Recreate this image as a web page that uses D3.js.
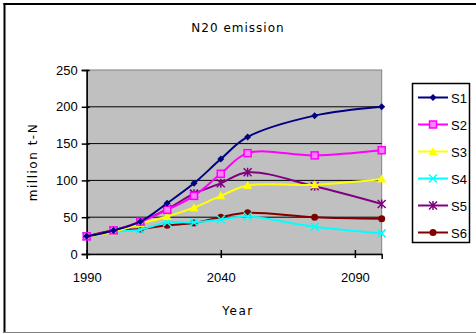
<!DOCTYPE html>
<html><head><meta charset="utf-8">
<script src="https://cdn.jsdelivr.net/npm/d3@7"></script>
<style>body{margin:0;background:#fff}svg{display:block}</style>
</head><body>
<svg id="c" width="476" height="334"></svg>
<script>
const years = [1990, 2000, 2010, 2020, 2030, 2040, 2050, 2075, 2100];
const seriesNames = ["S1", "S2", "S3", "S4", "S5", "S6"];
const S1 = [24, 32, 44, 69, 96, 129, 159, 188, 200];
const S2 = [24, 32, 44, 60, 79, 109, 137, 134, 141];
const S3 = [24, 30, 41, 51, 63, 79, 93, 94, 102];
const S4 = [24, 30, 33, 43, 43, 47, 51, 37, 28];
const S5 = [24, 32, 44, 61, 82, 96, 111, 92, 68];
const S6 = [24, 32, 34, 39, 42, 50, 56, 50, 48];
const colors = ["#000080", "#ff00ff", "#ffff00", "#00ffff", "#800080", "#800000"];
const markers = ["diamond", "square", "triangle", "x", "star", "circle"];
const yTicks = [0, 50, 100, 150, 200, 250];
const xTicks = [1990, 2040, 2090];
const allSeries = [S1, S2, S3, S4, S5, S6];

const svg = d3.select("#c");
// outer frame
svg.append("line").attr("x1",4.5).attr("x2",4.5).attr("y1",3).attr("y2",333).attr("stroke","#000").attr("stroke-width",2);
svg.append("line").attr("x1",3.5).attr("x2",476).attr("y1",4).attr("y2",4).attr("stroke","#000").attr("stroke-width",2);
svg.append("line").attr("x1",4).attr("x2",476).attr("y1",332.5).attr("y2",332.5).attr("stroke","#808080").attr("stroke-width",1);

const L = 86.7, R = 381.7, T = 70, B = 254;
const x = d3.scaleLinear().domain([1990, 2100]).range([L, R]);
const y = d3.scaleLinear().domain([0, 250]).range([B, T]);

svg.append("rect").attr("x",L).attr("y",T).attr("width",R-L).attr("height",B-T)
  .attr("fill","#c0c0c0").attr("stroke","#808080").attr("stroke-width",1);

// gridlines
svg.append("g").selectAll("line").data(yTicks.filter(d=>d>0&&d<250)).join("line")
  .attr("x1",L).attr("x2",R).attr("y1",d=>y(d)).attr("y2",d=>y(d))
  .attr("stroke","#000").attr("stroke-width",1);

// axes
const yAxis = d3.axisLeft(y).tickValues(yTicks).tickSize(5).tickPadding(4).tickFormat(d3.format("d"));
const gy = svg.append("g").attr("transform",`translate(${L},0)`).call(yAxis);
gy.select(".domain").attr("stroke","#000").attr("stroke-width",1.5);
gy.selectAll(".tick line").attr("x1",3).attr("x2",-5).attr("stroke-width",1.5);
gy.selectAll("text").attr("font-family","Liberation Sans, Arial, sans-serif").attr("font-size",13).attr("fill","#000");

const xAxis = d3.axisBottom(x).tickValues(xTicks).tickSize(5).tickPadding(14).tickFormat(d3.format("d"));
const gx = svg.append("g").attr("transform",`translate(0,${B})`).call(xAxis);
gx.select(".domain").attr("stroke","#000").attr("stroke-width",1.5);
gx.selectAll(".tick line").attr("y1",-4).attr("y2",4).attr("stroke-width",1.5);
gx.selectAll("text").attr("font-family","Liberation Sans, Arial, sans-serif").attr("font-size",13).attr("fill","#000");

// titles
const tfont = "DejaVu Sans, sans-serif";
svg.append("text").attr("x",238).attr("y",32).attr("text-anchor","middle")
  .attr("font-family",tfont).attr("font-size",12).attr("letter-spacing",1).text("N20 emission");
svg.append("text").attr("x",238).attr("y",315).attr("text-anchor","middle")
  .attr("font-family",tfont).attr("font-size",12).attr("letter-spacing",1.5).text("Year");
svg.append("text").attr("transform","translate(37,162) rotate(-90)").attr("text-anchor","middle")
  .attr("font-family",tfont).attr("font-size",12).attr("letter-spacing",1.5).text("million t-N");

function drawMarker(g, type, color, cx, cy) {
  const s = 3.5;
  if (type === "diamond") {
    g.append("path").attr("d",`M${cx},${cy-s}L${cx+s},${cy}L${cx},${cy+s}L${cx-s},${cy}Z`).attr("fill",color);
  } else if (type === "square") {
    g.append("rect").attr("x",cx-3.5).attr("y",cy-3.5).attr("width",7).attr("height",7)
      .attr("fill","#ff80ff").attr("stroke",color).attr("stroke-width",1.5);
  } else if (type === "triangle") {
    g.append("path").attr("d",`M${cx},${cy-4.5}L${cx+4.5},${cy+3.5}L${cx-4.5},${cy+3.5}Z`).attr("fill",color);
  } else if (type === "x") {
    g.append("path").attr("d",`M${cx-4},${cy-4}L${cx+4},${cy+4}M${cx-4},${cy+4}L${cx+4},${cy-4}`)
      .attr("stroke",color).attr("stroke-width",1.5);
  } else if (type === "star") {
    g.append("path").attr("d",`M${cx-4},${cy-4}L${cx+4},${cy+4}M${cx-4},${cy+4}L${cx+4},${cy-4}M${cx},${cy-4.5}L${cx},${cy+4.5}`)
      .attr("stroke",color).attr("stroke-width",1.5);
  } else {
    g.append("circle").attr("cx",cx).attr("cy",cy).attr("r",3.5).attr("fill",color);
  }
}

const line = d3.line().x((d,i)=>x(years[i])).y(d=>y(d)).curve(d3.curveCatmullRom.alpha(0.5));
// draw in reverse so S1 on top
for (let k = allSeries.length - 1; k >= 0; k--) {
  const g = svg.append("g");
  g.append("path").attr("d", line(allSeries[k])).attr("fill","none")
    .attr("stroke",colors[k]).attr("stroke-width",2);
  allSeries[k].forEach((v,i)=>drawMarker(g, markers[k], colors[k], x(years[i]), y(v)));
}

// legend
const lg = svg.append("g");
lg.append("rect").attr("x",412.5).attr("y",83.5).attr("width",57).attr("height",159)
  .attr("fill","#fff").attr("stroke","#000").attr("stroke-width",1.5);
seriesNames.forEach((n,k)=>{
  const cy = 97.5 + k*27;
  lg.append("line").attr("x1",418).attr("x2",448).attr("y1",cy).attr("y2",cy)
    .attr("stroke",colors[k]).attr("stroke-width",2);
  drawMarker(lg, markers[k], colors[k], 433, cy);
  lg.append("text").attr("x",451).attr("y",cy+5).attr("font-family","Liberation Sans, Arial, sans-serif")
    .attr("font-size",13).text(n);
});
</script>
</body></html>
